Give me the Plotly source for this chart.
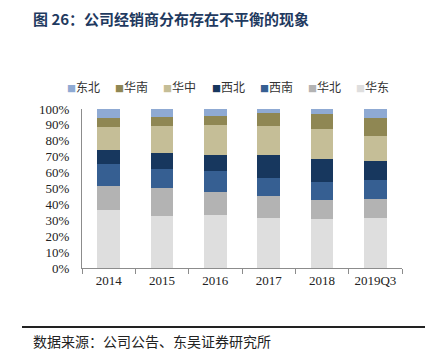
import plotly.graph_objects as go

categories = ["2014", "2015", "2016", "2017", "2018", "2019Q3"]
series_names = ["华东", "华北", "西南", "西北", "华中", "华南", "东北"]
huadong = [0.363, 0.327, 0.331, 0.314, 0.308, 0.314]
huabei = [0.153, 0.174, 0.149, 0.141, 0.120, 0.120]
xinan = [0.136, 0.124, 0.128, 0.113, 0.115, 0.122]
xibei = [0.092, 0.098, 0.105, 0.143, 0.143, 0.117]
huazhong = [0.143, 0.170, 0.184, 0.184, 0.186, 0.159]
huanan = [0.058, 0.057, 0.061, 0.080, 0.094, 0.111]
dongbei = [0.055, 0.050, 0.042, 0.025, 0.034, 0.057]
series_values = [huadong, huabei, xinan, xibei, huazhong, huanan, dongbei]
colors = ["#DEDEDE", "#B3B3B3", "#365F92", "#17375E", "#C5BE97", "#8F8753", "#8FAAD3"]
legend_order = ["东北", "华南", "华中", "西北", "西南", "华北", "华东"]

# page body has an 8px margin; compensate
OFF = 8
W, H = 435 - OFF, 360 - OFF

fig = go.Figure()
for name, vals, col in zip(series_names, series_values, colors):
    fig.add_trace(go.Bar(x=categories, y=vals, name=name, marker=dict(color=col, line=dict(width=0)),
                         showlegend=False))

fig.update_layout(
    barmode="stack",
    bargap=0.57,
    width=W, height=H,
    margin=dict(l=82 - OFF, r=W - (82 - OFF) - 320, t=109 - OFF, b=H - (109 - OFF) - 159),
    paper_bgcolor="white", plot_bgcolor="white",
    font=dict(family="Liberation Serif", size=13, color="#222"),
    title=dict(text="<b>图 26：公司经销商分布存在不平衡的现象</b>", x=(33 - OFF) / W, xanchor="left",
               xref="container", y=1 - (20 - OFF) / H, yref="container", yanchor="middle",
               font=dict(family="Noto Sans CJK SC", size=15, color="#1F3A60")),
)
fig.update_yaxes(range=[0, 1], dtick=0.1, tickformat=".0%", showgrid=False, zeroline=False,
                 showline=True, linecolor="#8C8C8C", linewidth=1, ticks="", ticklabelstandoff=9,
                 tickfont=dict(family="Liberation Serif", size=13, color="#222"))
fig.update_xaxes(showgrid=False, showline=True, linecolor="#8C8C8C", linewidth=1, ticks="outside",
                 tickson="boundaries", ticklen=5, tickcolor="#8C8C8C",
                 tickfont=dict(family="Liberation Serif", size=13, color="#222"))

# custom compact legend
color_map = dict(zip(series_names, colors))
plot_w, plot_h = 320, 159
for i, name in enumerate(legend_order):
    x_px = 65 + i * 48.2
    fig.add_annotation(
        x=(x_px - 82) / plot_w, y=(268 - 86) / plot_h, xref="paper", yref="paper",
        xanchor="left", yanchor="middle", showarrow=False,
        text=f"<span style='color:{color_map[name]};font-size:9px'>■</span>{name}",
        font=dict(family="Noto Sans CJK SC", size=12, color="#333"),
    )

# footer rule and source
fig.add_shape(type="line", xref="paper", yref="paper",
              x0=(22 - 82) / plot_w, x1=(425 - 82) / plot_w,
              y0=(268 - 327) / plot_h, y1=(268 - 327) / plot_h,
              line=dict(color="#222", width=2))
fig.add_annotation(x=(31 - 82) / plot_w, y=(268 - 341) / plot_h, xref="paper", yref="paper",
                   xanchor="left", yanchor="middle", showarrow=False,
                   text="数据来源：公司公告、东吴证券研究所",
                   font=dict(family="Noto Sans CJK SC", size=14, color="#222"))

fig.write_html("out.html")
